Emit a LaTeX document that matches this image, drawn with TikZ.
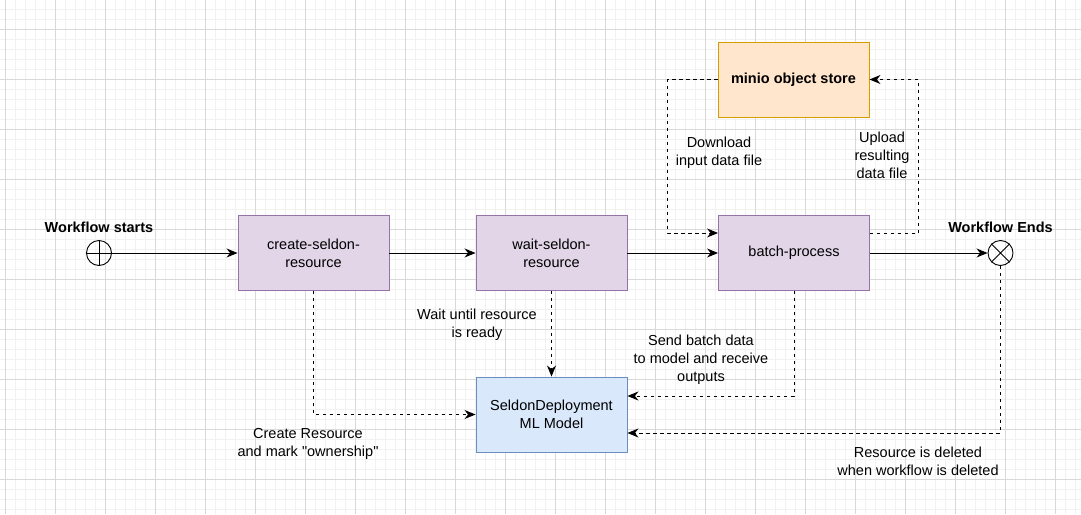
\documentclass[tikz,border=0pt]{standalone}
\usepackage{fontspec}
\setmainfont{Liberation Sans}
\usetikzlibrary{arrows.meta,positioning}

\definecolor{stepfill}{HTML}{E1D5E7}
\definecolor{stepline}{HTML}{9673A6}
\definecolor{storefill}{HTML}{FFE6CC}
\definecolor{storeline}{HTML}{D79B00}
\definecolor{modelfill}{HTML}{DAE8FC}
\definecolor{modelline}{HTML}{6C8EBF}
\definecolor{minorgrid}{HTML}{F1F1F1}
\definecolor{majorgrid}{HTML}{D9D9D9}

\newcommand{\labelfont}{\fontsize{14.5}{18}\selectfont}

\tikzset{
  stepbox/.style={draw=stepline, fill=stepfill, line width=0.9pt,
    minimum width=151pt, minimum height=75pt, align=center},
  storebox/.style={stepbox, draw=storeline, fill=storefill, font=\labelfont\bfseries},
  modelbox/.style={stepbox, draw=modelline, fill=modelfill},
  event/.style={circle, draw, line width=0.9pt, minimum size=25pt, inner sep=0pt},
  flow/.style={line width=1pt, -{Stealth[length=11pt,width=9pt,inset=3.5pt]}},
  dflow/.style={flow, dash pattern=on 3.5pt off 3.5pt},
  note/.style={align=center},
  title/.style={font=\labelfont\bfseries}
}

\begin{document}
\begin{tikzpicture}[x=1pt, y=-1pt, font=\labelfont]

    % Background and grid
    \useasboundingbox (0,0) rectangle (1081,514);
    \fill[white] (0,0) rectangle (1081,514);
    \foreach \x in {5,15,...,1075} \draw[minorgrid, line width=0.8pt] (\x,0) -- (\x,514);
    \foreach \y in {9,19,...,509} \draw[minorgrid, line width=0.8pt] (0,\y) -- (1081,\y);
    \foreach \x in {5,55,...,1055} \draw[majorgrid, line width=0.8pt] (\x,0) -- (\x,514);
    \foreach \y in {29,79,...,479} \draw[majorgrid, line width=0.8pt] (0,\y) -- (1081,\y);

    % Start and end events
    \node[event] (start) at (99,253) {};
    \draw[line width=0.9pt] (start.north) -- (start.south) (start.west) -- (start.east);
    \node[title] (startlabel) at (99,227) {Workflow starts};

    \node[event] (end) at (1000.5,253) {};
    \draw[line width=0.9pt] (end.45) -- (end.225) (end.135) -- (end.315);
    \node[title] (endlabel) at (1000.5,227) {Workflow Ends};

    % Workflow steps
    \node[stepbox] (create) at (313.5,253) {create-seldon-\\resource};
    \node[stepbox] (wait) at (551.5,253) {wait-seldon-\\resource};
    \node[stepbox] (batch) at (794,253) {batch-process};

    % Object store and model
    \node[storebox] (minio) at (793.5,79.5) {minio object store};
    \node[modelbox] (seldon) at (551.5,414.5) {SeldonDeployment\\ML Model};

    % Main flow
    \draw[flow] (start) -- (create);
    \draw[flow] (create) -- (wait);
    \draw[flow] (wait) -- (batch);
    \draw[flow] (batch) -- (end);

    % Data files
    \draw[dflow] (minio.west) -- ++(-50,0) |- ([yshift=20pt]batch.west);
    \draw[dflow] ([yshift=20pt]batch.east) -- ++(49,0) |- (minio.east);
    \node[note] (download) at (719,153) {Download\\input data file};
    \node[note] (upload) at (882,155) {Upload\\resulting\\data file};

    % Links to the model
    \draw[dflow] (create.south) |- (seldon.west);
    \draw[dflow] (wait.south) -- (seldon.north);
    \draw[dflow] (batch.south) |- ([yshift=18.5pt]seldon.east);
    \draw[dflow] (end.south) |- ([yshift=-18.5pt]seldon.east);

    \node[note] (createnote) at (308,444) {Create Resource\\and mark \textquotedbl ownership\textquotedbl};
    \node[note] (waitnote) at (477,325) {Wait until resource\\is ready};
    \node[note] (sendnote) at (701,360) {Send batch data\\to model and receive\\outputs};
    \node[note] (deletenote) at (918,461) {Resource is deleted\\when workflow is deleted};

\end{tikzpicture}
\end{document}
